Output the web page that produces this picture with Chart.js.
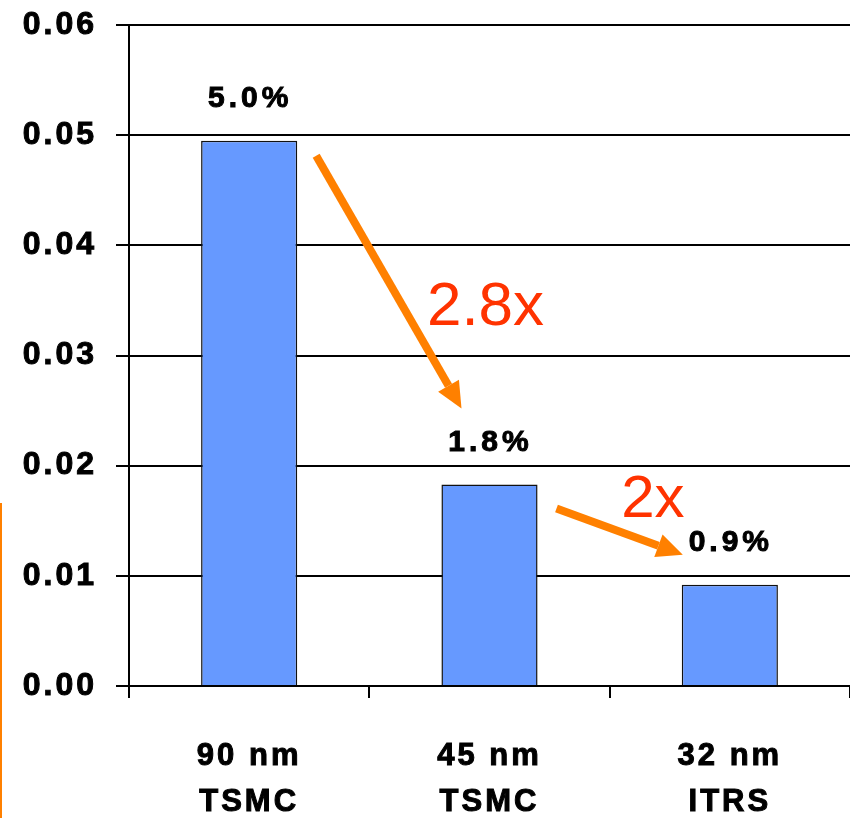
<!DOCTYPE html>
<html>
<head>
<meta charset="utf-8">
<script src="https://cdn.jsdelivr.net/npm/chart.js@4.4.1/dist/chart.umd.min.js"></script>
<style>
  html, body { margin: 0; padding: 0; background: #fff; }
  #wrap { width: 850px; height: 818px; }
</style>
</head>
<body>
<div id="wrap"><canvas id="myChart"></canvas></div>
<script>
const labels = [
    ['90 nm', 'TSMC'],
    ['45 nm', 'TSMC'],
    ['32 nm', 'ITRS'],
];
const values = [0.0495, 0.0183, 0.0092];
const barLabels = ['5.0%', '1.8%', '0.9%'];
const ratioLabels = ['2.8x', '2x'];

const FONT = "'Liberation Sans', Arial, Helvetica, sans-serif";
const ORANGE = '#ff8000';

// letter spacing for the bold axis text
const spacing = {
    id: 'spacing',
    beforeUpdate(chart) { chart.ctx.letterSpacing = '3px'; },
    beforeDraw(chart) { chart.ctx.letterSpacing = '3px'; }
};

function arrow(ctx, x1, y1, x2, y2) {
    const a = Math.atan2(y2 - y1, x2 - x1);
    const head = 26, half = 12;
    const bx = x2 - head * Math.cos(a), by = y2 - head * Math.sin(a);
    ctx.strokeStyle = ORANGE;
    ctx.fillStyle = ORANGE;
    ctx.lineWidth = 8;
    ctx.lineCap = 'butt';
    ctx.beginPath();
    ctx.moveTo(x1, y1);
    ctx.lineTo(bx, by);
    ctx.stroke();
    ctx.beginPath();
    ctx.moveTo(x2, y2);
    ctx.lineTo(bx + half * Math.sin(a), by - half * Math.cos(a));
    ctx.lineTo(bx - half * Math.sin(a), by + half * Math.cos(a));
    ctx.closePath();
    ctx.fill();
}

const notes = {
    id: 'notes',
    afterDatasetsDraw(chart) {
        const ctx = chart.ctx;
        const bars = chart.getDatasetMeta(0).data;
        ctx.save();
        // value labels above the bars
        ctx.letterSpacing = '4px';
        ctx.font = 'bold 30px ' + FONT;
        ctx.fillStyle = '#000';
        ctx.strokeStyle = '#000';
        ctx.lineWidth = 1;
        ctx.textAlign = 'center';
        ctx.textBaseline = 'middle';
        bars.forEach((b, i) => {
            ctx.fillText(barLabels[i], b.x + 1, b.y - 42);
            ctx.strokeText(barLabels[i], b.x + 1, b.y - 42);
        });

        // reduction arrows
        const [b0, b1, b2] = bars;
        arrow(ctx, b0.x + 67, b0.y + 15, b1.x - 28, b1.y - 76);
        arrow(ctx, b1.x + 67, b1.y + 24, b2.x - 47, b2.y - 30);

        ctx.letterSpacing = '0px';
        ctx.font = '62px ' + FONT;
        ctx.fillStyle = '#ff3300';
        ctx.textBaseline = 'alphabetic';
        ctx.fillText(ratioLabels[0], b1.x - 4, b1.y - 159);
        ctx.font = '60px ' + FONT;
        ctx.fillText(ratioLabels[1], b2.x - 77, b2.y - 68);

        // orange edge line at the left
        ctx.strokeStyle = ORANGE;
        ctx.lineWidth = 2;
        ctx.beginPath();
        ctx.moveTo(1, 503);
        ctx.lineTo(1, chart.height);
        ctx.stroke();
        ctx.restore();
    }
};

const data = {
    labels: labels,
    datasets: [{
        data: values,
        backgroundColor: '#6699ff',
        borderColor: '#111',
        borderWidth: 1.5,
        barPercentage: 0.4,
        categoryPercentage: 1.0,
    }]
};

const config = {
    type: 'bar',
    data: data,
    options: {
        responsive: true,
        maintainAspectRatio: false,
        animation: false,
        layout: { padding: { top: 25, right: 0, bottom: 0, left: 0 } },
        plugins: {
            legend: { display: false },
            tooltip: { enabled: false }
        },
        scales: {
            x: {
                grid: {
                    offset: true,
                    drawOnChartArea: false,
                    color: '#000',
                    lineWidth: 2,
                    tickLength: 12
                },
                border: { color: '#000', width: 2 },
                ticks: {
                    color: '#000',
                    padding: 36,
                    maxRotation: 0,
                    textStrokeColor: '#000',
                    textStrokeWidth: 1,
                    font: { family: FONT, size: 31, weight: 'bold', lineHeight: 1.48 }
                },
                afterFit(scale) { scale.height = 132; }
            },
            y: {
                min: 0,
                max: 0.06,
                grid: { color: '#000', lineWidth: 2, tickLength: 13 },
                border: { color: '#000', width: 2 },
                ticks: {
                    stepSize: 0.01,
                    color: '#000',
                    padding: 19,
                    textStrokeColor: '#000',
                    textStrokeWidth: 1,
                    font: { family: FONT, size: 32, weight: 'bold' },
                    callback: v => v.toFixed(2)
                },
                afterFit(scale) {
                    scale.width = 129;
                    scale.paddingTop = 0;
                    scale.paddingBottom = 0;
                }
            }
        }
    },
    plugins: [spacing, notes]
};

const myChart = new Chart(document.querySelector('#myChart'), config);
</script>
</body>
</html>
